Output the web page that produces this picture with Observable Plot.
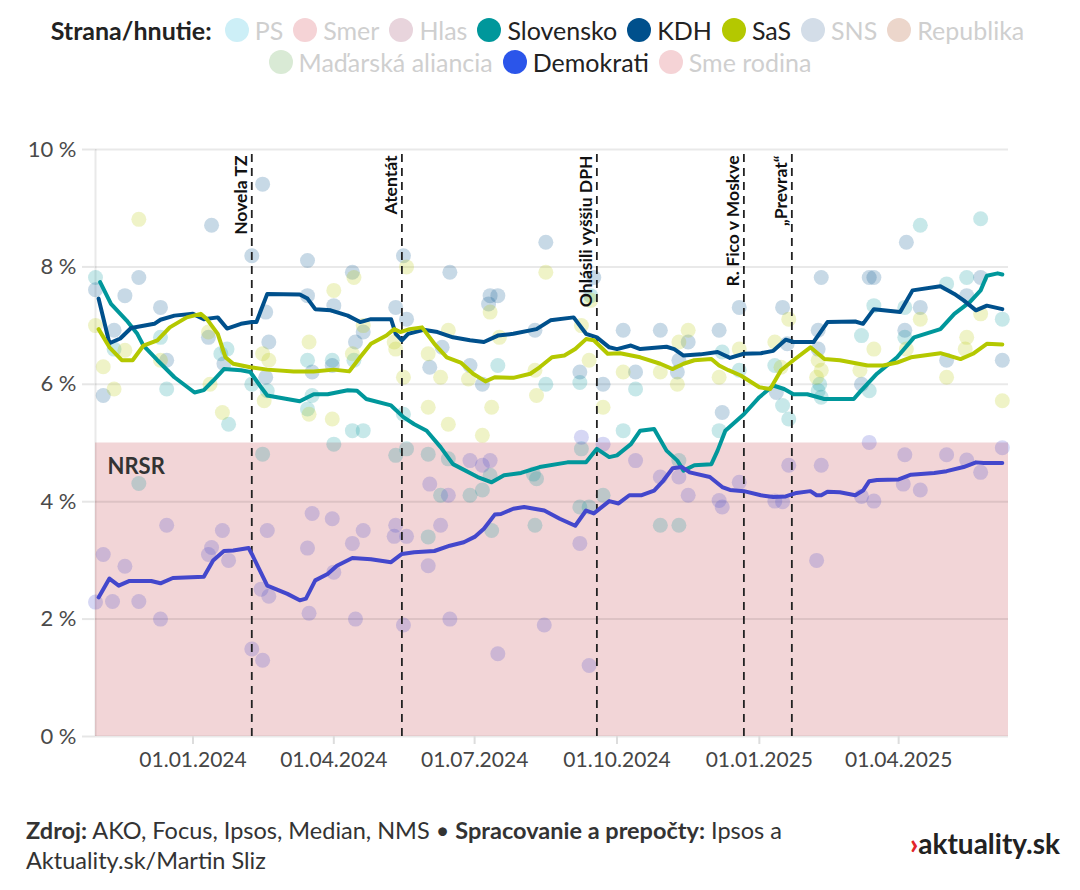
<!DOCTYPE html>
<html><head><meta charset="utf-8">
<script src="https://cdn.jsdelivr.net/npm/d3@7"></script>
<script src="https://cdn.jsdelivr.net/npm/@observablehq/plot@0.6"></script>
<style>
body{margin:0;background:#fff;font-family:Lato,"Noto Sans",sans-serif;width:1080px;height:890px;position:relative;overflow:hidden}
#legend{position:absolute;left:0;top:14px;width:1080px}
.row{display:flex;justify-content:center;align-items:center;height:32px}
.item{display:flex;align-items:center;margin:0 5px;font-size:25px;color:#222}
.item .dot{width:24px;height:24px;border-radius:50%;margin-right:6px}
.item.off{color:#cfcfcf}
.lbl{font-weight:700;font-size:25px;color:#222;margin-right:8px}
#chart{position:absolute;left:0;top:100px}
#foot{position:absolute;left:26px;top:815px;font-size:23.5px;line-height:30px;color:#333}
#logo{position:absolute;right:20px;top:826px;font-weight:700;font-size:28px;color:#222}
#logo span{color:#e2262b;font-weight:900}
</style></head><body>
<div id="legend"></div>
<div id="chart"></div>
<div id="foot"><b>Zdroj:</b> AKO, Focus, Ipsos, Median, NMS • <b>Spracovanie a prepočty:</b> Ipsos a<br>Aktuality.sk/Martin Sliz</div>
<div id="logo"><span>›</span>aktuality.sk</div>
<script>
// ---------- legend ----------
const legendTitle = "Strana/hnutie:";
const legendRow1 = ["PS","Smer","Hlas","Slovensko","KDH","SaS","SNS","Republika"];
const legendRow2 = ["Maďarská aliancia","Demokrati","Sme rodina"];
const legendColors = {"PS":"#cdeff7","Smer":"#f5d3d6","Hlas":"#e8d4dc","Slovensko":"#00979b","KDH":"#00508c","SaS":"#b4c800","SNS":"#d3dde8","Republika":"#ecd6cb","Maďarská aliancia":"#d9ead5","Demokrati":"#2b55ea","Sme rodina":"#f5d3d6"};
const activeParties = ["Slovensko","KDH","SaS","Demokrati"];

// ---------- axes / annotations ----------
const xStart = "2023-10-30", xEnd = "2025-06-11";
const yTicks = [0,2,4,6,8,10];
const xTicks = ["2024-01-01","2024-04-01","2024-07-01","2024-10-01","2025-01-01","2025-04-01"];
const nrsrThreshold = 5;
const nrsrLabel = "NRSR";
const eventDates = ["2024-02-08","2024-05-15","2024-09-18","2024-12-22","2025-01-22"];
const eventLabels = ["Novela TZ","Atentát","Ohlásili vyššiu DPH","R. Fico v Moskve","„Prevrat“"];

// ---------- series colours ----------
const partyNames = ["Slovensko","KDH","SaS","Demokrati"];
const seriesColors = ["#00979b","#00508c","#b4c800","#4347cc"];

// ---------- smoothed trend lines ----------
const kdhLine = [["2023-11-01",7.46],["2023-11-08",6.70],["2023-11-15",6.78],["2023-11-22",6.96],["2023-12-07",7.03],["2023-12-11",7.10],["2023-12-20",7.17],["2024-01-01",7.20],["2024-01-08",7.11],["2024-01-17",7.14],["2024-01-23",6.95],["2024-02-01",7.03],["2024-02-08",7.06],["2024-02-11",7.06],["2024-02-18",7.54],["2024-03-10",7.53],["2024-03-15",7.46],["2024-03-20",7.28],["2024-03-30",7.26],["2024-04-10",7.17],["2024-04-18",7.06],["2024-04-25",7.11],["2024-05-08",7.11],["2024-05-11",6.86],["2024-05-15",6.75],["2024-05-19",6.86],["2024-05-29",6.93],["2024-06-07",6.89],["2024-06-17",6.80],["2024-06-28",6.75],["2024-07-07",6.72],["2024-07-16",6.83],["2024-07-26",6.86],["2024-08-10",6.94],["2024-08-19",7.09],["2024-09-03",7.14],["2024-09-11",6.86],["2024-09-18",6.80],["2024-09-26",6.63],["2024-10-01",6.60],["2024-10-10",6.66],["2024-10-16",6.60],["2024-11-02",6.64],["2024-11-07",6.60],["2024-11-13",6.49],["2024-11-24",6.51],["2024-12-05",6.55],["2024-12-13",6.45],["2024-12-22",6.52],["2025-01-02",6.53],["2025-01-10",6.57],["2025-01-18",6.76],["2025-01-23",6.72],["2025-02-05",6.72],["2025-02-14",7.06],["2025-03-04",7.07],["2025-03-09",7.03],["2025-03-16",7.28],["2025-04-02",7.23],["2025-04-10",7.60],["2025-04-28",7.67],["2025-05-07",7.54],["2025-05-13",7.43],["2025-05-21",7.26],["2025-05-28",7.34],["2025-06-07",7.28]];
const sasLine = [["2023-11-01",6.94],["2023-11-08",6.63],["2023-11-16",6.41],["2023-11-23",6.41],["2023-11-30",6.66],["2023-12-09",6.75],["2023-12-17",6.97],["2023-12-28",7.14],["2024-01-06",7.20],["2024-01-10",7.11],["2024-01-17",6.86],["2024-01-22",6.46],["2024-01-27",6.35],["2024-02-07",6.29],["2024-02-18",6.25],["2024-03-06",6.22],["2024-03-19",6.22],["2024-04-01",6.25],["2024-04-11",6.22],["2024-04-18",6.46],["2024-04-25",6.69],["2024-05-05",6.83],["2024-05-10",6.94],["2024-05-14",6.89],["2024-05-20",6.94],["2024-05-28",6.97],["2024-06-05",6.69],["2024-06-13",6.46],["2024-06-22",6.37],["2024-06-30",6.18],["2024-07-08",6.05],["2024-07-14",6.12],["2024-07-26",6.11],["2024-08-06",6.18],["2024-08-12",6.29],["2024-08-20",6.46],["2024-08-28",6.49],["2024-09-04",6.60],["2024-09-11",6.77],["2024-09-16",6.75],["2024-09-25",6.52],["2024-10-03",6.53],["2024-10-16",6.46],["2024-10-29",6.35],["2024-11-06",6.26],["2024-11-13",6.35],["2024-11-20",6.41],["2024-12-01",6.43],["2024-12-06",6.32],["2024-12-12",6.24],["2024-12-20",6.15],["2025-01-01",5.95],["2025-01-08",5.92],["2025-01-15",6.24],["2025-01-23",6.41],["2025-02-03",6.63],["2025-02-12",6.43],["2025-02-22",6.41],["2025-03-12",6.32],["2025-03-22",6.32],["2025-03-31",6.37],["2025-04-09",6.46],["2025-04-28",6.53],["2025-05-11",6.43],["2025-05-19",6.52],["2025-05-28",6.69],["2025-06-07",6.68]];
const slovenskoLine = [["2023-11-02",7.74],["2023-11-09",7.37],["2023-11-19",7.09],["2023-11-26",6.86],["2023-11-30",6.66],["2023-12-09",6.41],["2023-12-20",6.12],["2024-01-02",5.86],["2024-01-08",5.90],["2024-01-14",6.06],["2024-01-21",6.26],["2024-02-01",6.24],["2024-02-07",6.21],["2024-02-14",5.95],["2024-02-18",5.81],["2024-03-10",5.71],["2024-03-19",5.83],["2024-03-28",5.83],["2024-04-10",5.90],["2024-04-16",5.89],["2024-04-22",5.75],["2024-05-08",5.64],["2024-05-16",5.44],["2024-05-23",5.32],["2024-05-31",5.21],["2024-06-09",4.93],["2024-06-17",4.64],["2024-07-03",4.42],["2024-07-12",4.33],["2024-07-20",4.45],["2024-07-31",4.49],["2024-08-12",4.59],["2024-08-30",4.67],["2024-09-11",4.67],["2024-09-18",4.90],["2024-09-26",4.76],["2024-10-01",4.79],["2024-10-10",4.98],["2024-10-16",5.21],["2024-10-25",5.24],["2024-11-02",4.87],["2024-11-09",4.70],["2024-11-13",4.53],["2024-11-20",4.62],["2024-12-01",4.64],["2024-12-05",4.87],["2024-12-10",5.21],["2024-12-22",5.49],["2025-01-01",5.78],["2025-01-10",5.98],["2025-01-17",5.92],["2025-01-23",5.83],["2025-02-01",5.83],["2025-02-12",5.75],["2025-03-03",5.75],["2025-03-07",5.87],["2025-03-18",6.18],["2025-03-31",6.46],["2025-04-11",6.80],["2025-04-28",6.94],["2025-05-07",7.20],["2025-05-17",7.40],["2025-05-24",7.60],["2025-05-28",7.85],["2025-06-04",7.89],["2025-06-07",7.87]];
const demokratiLine = [["2023-11-01",2.37],["2023-11-08",2.69],["2023-11-14",2.57],["2023-11-21",2.65],["2023-12-05",2.65],["2023-12-11",2.61],["2023-12-19",2.70],["2024-01-08",2.72],["2024-01-14",3.00],["2024-01-21",3.16],["2024-01-27",3.17],["2024-02-06",3.21],["2024-02-08",3.11],["2024-02-18",2.57],["2024-03-02",2.43],["2024-03-10",2.32],["2024-03-14",2.35],["2024-03-20",2.66],["2024-03-28",2.77],["2024-04-03",2.91],["2024-04-13",3.04],["2024-04-25",3.02],["2024-05-08",2.97],["2024-05-15",3.11],["2024-05-23",3.14],["2024-06-05",3.16],["2024-06-15",3.25],["2024-06-24",3.31],["2024-07-01",3.40],["2024-07-07",3.54],["2024-07-14",3.78],["2024-07-18",3.79],["2024-07-26",3.88],["2024-08-02",3.91],["2024-08-15",3.85],["2024-08-25",3.71],["2024-09-04",3.59],["2024-09-11",3.85],["2024-09-16",3.80],["2024-09-26",4.01],["2024-10-02",3.97],["2024-10-09",4.11],["2024-10-17",4.11],["2024-10-25",4.19],["2024-10-31",4.36],["2024-11-06",4.57],["2024-11-12",4.59],["2024-11-17",4.50],["2024-11-30",4.42],["2024-12-08",4.25],["2024-12-13",4.20],["2024-12-22",4.18],["2025-01-02",4.11],["2025-01-10",4.08],["2025-01-18",4.09],["2025-01-25",4.15],["2025-02-03",4.18],["2025-02-07",4.11],["2025-02-10",4.11],["2025-02-14",4.17],["2025-02-22",4.16],["2025-03-04",4.11],["2025-03-09",4.19],["2025-03-13",4.35],["2025-03-18",4.37],["2025-04-01",4.38],["2025-04-09",4.46],["2025-04-24",4.49],["2025-05-02",4.52],["2025-05-13",4.59],["2025-05-21",4.67],["2025-05-26",4.66],["2025-06-07",4.66]];

// ---------- individual polls ----------
const slovenskoPolls = [["2023-10-30",7.82],["2023-11-11",6.60],["2023-11-27",4.31],["2023-12-11",6.80],["2023-12-15",5.92],["2024-01-19",6.52],["2024-01-23",6.60],["2024-01-24",5.32],["2024-02-08",6.00],["2024-02-15",4.81],["2024-02-18",5.89],["2024-03-15",6.41],["2024-03-15",5.58],["2024-03-18",5.81],["2024-03-31",6.41],["2024-04-01",4.98],["2024-04-13",5.21],["2024-04-14",6.41],["2024-04-20",5.21],["2024-05-11",4.79],["2024-05-16",5.49],["2024-05-18",4.90],["2024-06-01",4.81],["2024-06-01",3.40],["2024-06-09",4.11],["2024-06-14",4.73],["2024-06-28",4.11],["2024-07-06",4.20],["2024-07-11",4.45],["2024-07-12",3.51],["2024-07-16",6.32],["2024-08-08",4.47],["2024-08-10",4.39],["2024-08-09",3.60],["2024-08-16",6.00],["2024-09-07",6.03],["2024-09-07",3.91],["2024-09-08",4.90],["2024-09-13",3.91],["2024-09-14",7.51],["2024-09-22",4.11],["2024-10-05",5.21],["2024-10-13",5.92],["2024-10-29",3.60],["2024-11-10",4.70],["2024-11-10",3.60],["2024-12-06",5.21],["2024-12-08",6.55],["2024-12-19",6.24],["2025-01-11",6.32],["2025-01-16",5.64],["2025-01-20",5.41],["2025-02-08",5.89],["2025-02-09",6.00],["2025-02-10",5.78],["2025-03-08",6.83],["2025-03-13",5.89],["2025-03-16",7.34],["2025-04-05",7.31],["2025-04-05",6.80],["2025-04-15",8.71],["2025-05-02",7.71],["2025-05-15",7.82],["2025-05-24",8.82],["2025-06-07",7.11]];
const kdhPolls = [["2023-10-30",7.61],["2023-11-04",5.81],["2023-11-11",6.92],["2023-11-18",7.51],["2023-11-27",7.82],["2023-12-11",7.31],["2023-12-15",6.41],["2024-01-11",6.80],["2024-01-13",8.71],["2024-01-21",6.35],["2024-02-08",8.19],["2024-02-15",9.41],["2024-02-17",7.23],["2024-02-17",6.12],["2024-02-19",6.72],["2024-03-15",8.11],["2024-03-15",7.51],["2024-03-18",6.21],["2024-03-31",6.32],["2024-04-01",7.34],["2024-04-13",7.91],["2024-04-15",6.72],["2024-04-20",6.89],["2024-05-11",7.31],["2024-05-16",8.19],["2024-05-18",7.11],["2024-06-02",6.29],["2024-06-10",6.63],["2024-06-15",7.91],["2024-06-28",6.32],["2024-07-06",6.00],["2024-07-10",7.37],["2024-07-11",7.51],["2024-07-16",7.51],["2024-08-09",6.92],["2024-08-16",8.42],["2024-09-07",6.21],["2024-09-16",7.82],["2024-09-22",6.00],["2024-10-05",6.92],["2024-10-13",6.21],["2024-10-29",6.92],["2024-11-09",6.21],["2024-11-10",6.41],["2024-11-16",6.72],["2024-12-06",6.92],["2024-12-08",5.52],["2024-12-19",7.31],["2025-01-12",5.86],["2025-01-16",7.31],["2025-01-19",6.69],["2025-02-08",6.92],["2025-02-08",6.60],["2025-02-10",7.82],["2025-03-08",6.00],["2025-03-13",7.82],["2025-03-16",7.82],["2025-04-05",6.92],["2025-04-06",8.42],["2025-04-15",7.31],["2025-05-02",6.41],["2025-05-15",7.51],["2025-05-24",7.82],["2025-06-07",6.41]];
const sasPolls = [["2023-10-30",7.00],["2023-11-04",6.30],["2023-11-11",5.92],["2023-11-18",6.58],["2023-11-27",8.81],["2023-12-11",6.41],["2024-01-11",6.89],["2024-01-12",6.00],["2024-01-20",5.52],["2024-02-15",6.52],["2024-02-16",5.72],["2024-02-19",6.41],["2024-03-16",6.72],["2024-03-16",5.49],["2024-03-31",5.41],["2024-04-01",7.60],["2024-04-13",6.52],["2024-04-14",7.82],["2024-04-20",7.00],["2024-05-10",6.72],["2024-05-11",6.60],["2024-05-16",6.12],["2024-05-18",8.00],["2024-06-01",6.52],["2024-06-01",5.61],["2024-06-09",6.12],["2024-06-14",6.92],["2024-06-14",5.32],["2024-06-27",6.09],["2024-07-06",5.13],["2024-07-11",7.23],["2024-07-12",5.61],["2024-07-17",6.80],["2024-08-09",6.24],["2024-08-10",5.81],["2024-08-16",7.91],["2024-09-08",7.00],["2024-09-13",6.41],["2024-09-14",7.43],["2024-09-22",5.61],["2024-10-05",6.21],["2024-10-29",6.21],["2024-11-09",6.00],["2024-11-10",6.72],["2024-11-16",6.92],["2024-12-06",6.12],["2024-12-19",6.60],["2025-01-11",6.72],["2025-01-15",6.29],["2025-01-20",7.11],["2025-02-07",6.12],["2025-02-08",6.41],["2025-02-10",6.24],["2025-03-07",6.24],["2025-03-16",6.60],["2025-04-06",6.60],["2025-04-15",7.11],["2025-05-02",6.12],["2025-05-14",6.60],["2025-05-15",6.80],["2025-05-24",7.20],["2025-06-07",5.72]];
const demokratiPolls = [["2023-10-30",2.29],["2023-11-04",3.10],["2023-11-10",2.30],["2023-11-18",2.90],["2023-11-27",2.30],["2023-12-11",2.00],["2023-12-15",3.60],["2024-01-11",3.10],["2024-01-13",3.22],["2024-01-20",3.51],["2024-01-24",3.00],["2024-02-08",1.49],["2024-02-14",2.51],["2024-02-15",1.30],["2024-02-18",3.51],["2024-02-19",2.39],["2024-03-15",3.21],["2024-03-16",2.10],["2024-03-18",3.80],["2024-03-31",3.71],["2024-04-01",2.80],["2024-04-13",3.29],["2024-04-15",2.00],["2024-04-20",3.51],["2024-05-10",3.41],["2024-05-11",3.60],["2024-05-16",1.90],["2024-05-18",3.41],["2024-06-01",2.91],["2024-06-02",4.30],["2024-06-09",3.60],["2024-06-14",4.11],["2024-06-15",2.00],["2024-06-28",4.70],["2024-07-06",4.62],["2024-07-11",4.70],["2024-07-16",1.41],["2024-08-15",1.90],["2024-09-07",3.29],["2024-09-08",5.10],["2024-09-13",1.21],["2024-09-22",4.98],["2024-10-13",4.70],["2024-10-29",4.42],["2024-11-10",4.42],["2024-11-16",4.11],["2024-12-06",4.02],["2024-12-08",3.91],["2024-12-19",4.33],["2025-01-11",4.01],["2025-01-16",4.00],["2025-01-20",4.62],["2025-02-07",3.00],["2025-02-10",4.62],["2025-03-08",4.09],["2025-03-13",5.01],["2025-03-16",4.01],["2025-04-04",4.30],["2025-04-05",4.80],["2025-04-15",4.20],["2025-05-02",4.80],["2025-05-15",4.71],["2025-05-24",4.50],["2025-06-07",4.92]];

// ---------- build legend ----------
const legend = document.getElementById("legend");
function makeRow(items, withTitle){
  const row = document.createElement("div"); row.className = "row";
  if (withTitle){ const t = document.createElement("span"); t.className="lbl"; t.textContent = legendTitle; row.appendChild(t); }
  for (const name of items){
    const it = document.createElement("span");
    it.className = "item" + (activeParties.includes(name) ? "" : " off");
    const dot = document.createElement("span"); dot.className = "dot"; dot.style.background = legendColors[name];
    const tx = document.createElement("span"); tx.textContent = name;
    it.appendChild(dot); it.appendChild(tx); row.appendChild(it);
  }
  legend.appendChild(row);
}
makeRow(legendRow1, true);
makeRow(legendRow2, false);

// ---------- build tables ----------
const parse = d3.utcParse("%Y-%m-%d");
const lineSets = [["Slovensko", slovenskoLine],["KDH", kdhLine],["SaS", sasLine],["Demokrati", demokratiLine]];
const pollSets = [["Slovensko", slovenskoPolls],["KDH", kdhPolls],["SaS", sasPolls],["Demokrati", demokratiPolls]];
const lines = [], polls = [];
for (const [party, arr] of lineSets) for (const [d, v] of arr) lines.push({party, date: parse(d), value: v});
for (const [party, arr] of pollSets) for (const [d, v] of arr) polls.push({party, date: parse(d), value: v});
const events = eventDates.map((d, i) => ({date: parse(d), label: eventLabels[i]}));
const x0 = parse(xStart), x1 = parse(xEnd);
const fmt = d3.utcFormat("%d.%m.%Y");

const chart = Plot.plot({
  width: 1080, height: 680,
  marginLeft: 95, marginRight: 72, marginTop: 49, marginBottom: 44,
  style: {fontFamily: "Lato, 'Noto Sans', sans-serif", fontSize: "21px", color: "#454545", background: "transparent"},
  x: {type: "utc", domain: [x0, x1], label: null},
  y: {domain: [0, 10], label: null},
  color: {domain: partyNames, range: seriesColors},
  marks: [
    Plot.rect([nrsrThreshold], {x1: () => x0, x2: () => x1, y1: 0, y2: d => d, fill: "#f2d5d7"}),
    Plot.gridY(yTicks, {stroke: "#000", strokeOpacity: 0.085, strokeWidth: 2}),
    Plot.ruleX([x0], {y1: 0, y2: 10, stroke: "#000", strokeOpacity: 0.085, strokeWidth: 2}),
    Plot.axisY(yTicks, {tickSize: 13, tickPadding: 6, stroke: "#e6e6e6", strokeWidth: 2, tickFormat: d => d + " %", fontSize: 22, fill: "#4a4a4a", label: null}),
    Plot.axisX(xTicks.map(parse), {tickSize: 8, tickPadding: 8, stroke: "#dddddd", strokeWidth: 2, tickFormat: fmt, fontSize: 21, fill: "#454545", label: null}),
    Plot.dot(polls, {x: "date", y: "value", r: 7.5, fill: "party", fillOpacity: 0.22}),
    Plot.ruleX(events, {x: "date", y1: 0, y2: 10, stroke: "#222", strokeWidth: 1.8, strokeDasharray: "8,6"}),
    Plot.line(lines, {x: "date", y: "value", z: "party", stroke: "party", strokeWidth: 4, strokeLinejoin: "round", strokeLinecap: "round"}),
    Plot.text(events, {x: "date", y: 10, text: "label", rotate: -90, textAnchor: "end", lineAnchor: "bottom", dx: -5, dy: 6, fontWeight: 700, fontSize: 17.5, fill: "#111"}),
    Plot.text([nrsrLabel], {x: () => x0, y: () => nrsrThreshold, text: d => d, textAnchor: "start", dx: 12, dy: 24, fontWeight: 700, fontSize: 22, fill: "#333"})
  ]
});
document.getElementById("chart").appendChild(chart);
</script>
</body></html>
